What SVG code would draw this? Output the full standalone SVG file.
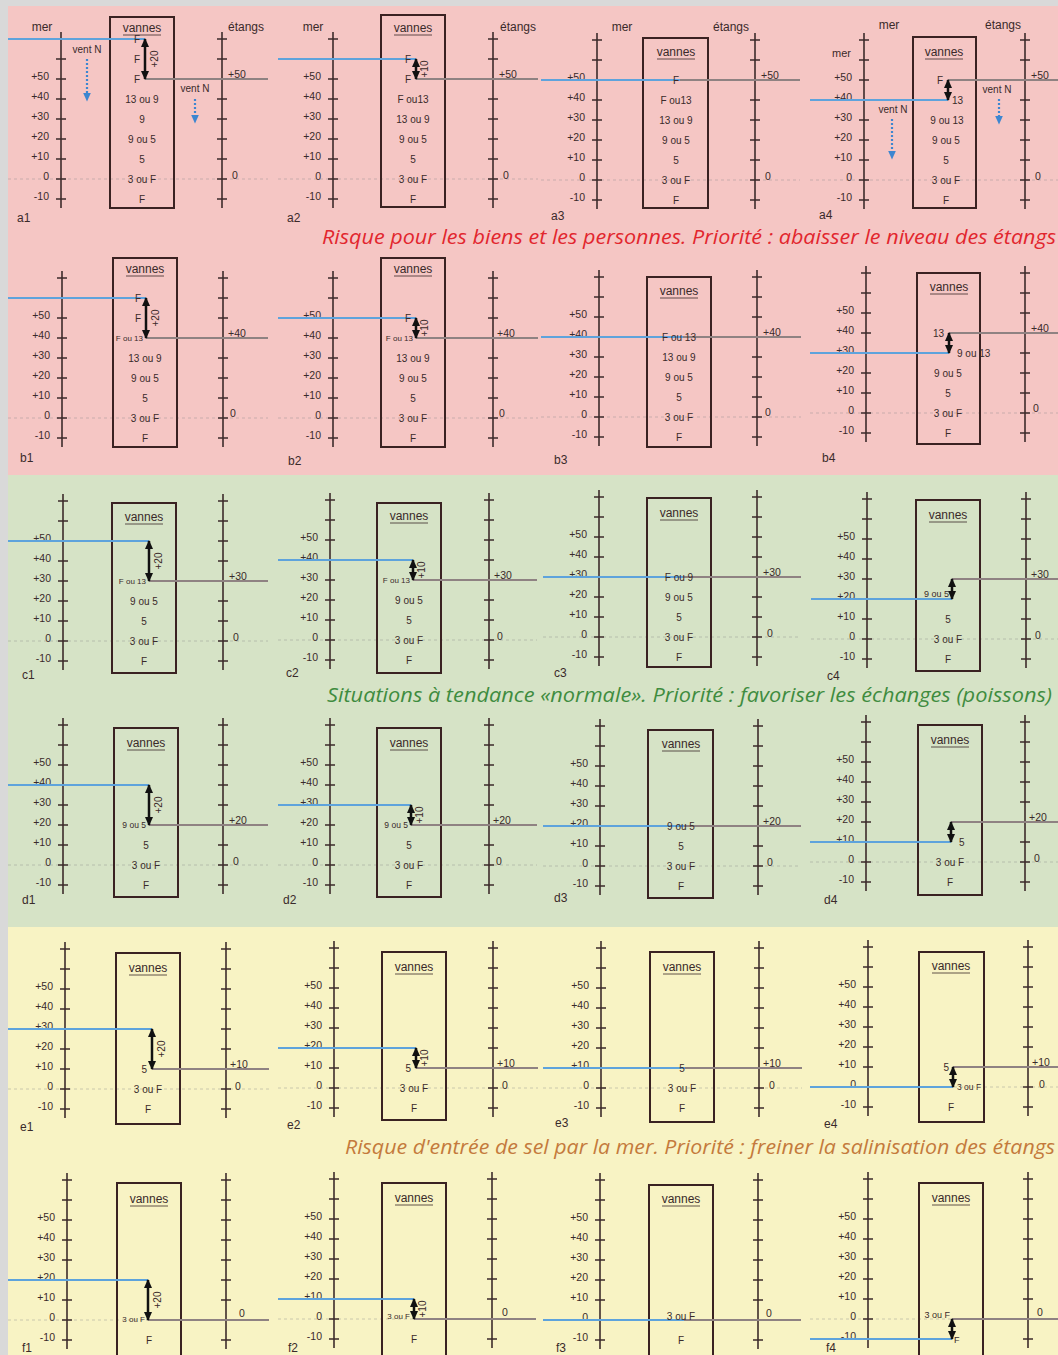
<svg xmlns="http://www.w3.org/2000/svg" xmlns:xlink="http://www.w3.org/1999/xlink" width="1058" height="1355" viewBox="0 0 1058 1355">
<style>
text{font-family:"Liberation Sans",Arial,sans-serif;fill:#3a2a2a}
.ax{stroke:#3d2b2b;stroke-width:1.6}
.tk{stroke:#3d2b2b;stroke-width:1.4}
.box{fill:none;stroke:#3a2222;stroke-width:2}
.bl{stroke:#5ea3dc;stroke-width:2.2}
.gr{stroke:#8f8282;stroke-width:2.2}
.z{stroke:#8a8a8a;stroke-width:1;stroke-dasharray:3 3;opacity:.4}
.ul{stroke:#3a2a2a;stroke-width:0.8}
.arr{stroke:#111;stroke-width:2.5;marker-start:url(#ah);marker-end:url(#ah)}
.vent{stroke:#3d86d0;stroke-width:2.2;stroke-dasharray:2 2;marker-end:url(#vh)}
.ml{font-size:10.5px;text-anchor:end}
.v{font-size:10px;text-anchor:middle}
.ve{font-size:10px;text-anchor:end}
.vst{font-size:10px;text-anchor:start}
.vs{font-size:8px;text-anchor:end}
.vss{font-size:8.5px;text-anchor:start}
.vn{font-size:12px;text-anchor:middle}
.al{font-size:10px;text-anchor:middle}
.el{font-size:10.5px}
.hd{font-size:12px;text-anchor:middle}
.pl{font-size:12px}
.wind{font-size:10px;text-anchor:middle}
.title{font-family:"Open Sans","Liberation Sans",sans-serif;font-style:italic;font-size:20px}
</style>
<defs>
<marker id="ah" viewBox="0 0 10 10" refX="9" refY="5" markerWidth="9" markerHeight="9" markerUnits="userSpaceOnUse" orient="auto-start-reverse"><path d="M0,0.5 L10,5 L0,9.5 z" fill="#111"/></marker>
<marker id="vh" viewBox="0 0 10 10" refX="5" refY="5" markerWidth="9" markerHeight="9" markerUnits="userSpaceOnUse" orient="auto"><path d="M0,0.5 L10,5 L0,9.5 z" fill="#3d86d0"/></marker>
<g id="ax">
<line class="ax" x1="0" y1="-147" x2="0" y2="29"/>
<path class="tk" d="M-5,-140H5M-5,-120H5M-5,-100H5M-5,-80H5M-5,-60H5M-5,-40H5M-5,-20H5M-5,0H5M-5,20H5"/>
</g>
<g id="ml">
<text class="ml" x="-12" y="-99">+50</text>
<text class="ml" x="-12" y="-79">+40</text>
<text class="ml" x="-12" y="-59">+30</text>
<text class="ml" x="-12" y="-39">+20</text>
<text class="ml" x="-12" y="-19">+10</text>
<text class="ml" x="-12" y="1">0</text>
<text class="ml" x="-12" y="21">-10</text>
</g>
</defs>

<!-- backgrounds -->
<rect x="0" y="0" width="1058" height="1355" fill="#d9d9d9"/>
<rect x="8" y="6" width="1050" height="469" fill="#f5c6c4"/>
<rect x="8" y="475" width="1050" height="452" fill="#d6e3c6"/>
<rect x="8" y="927" width="1050" height="428" fill="#f8f3c4"/>

<!-- titles -->
<text class="title" x="1056" y="244" text-anchor="end" textLength="734" lengthAdjust="spacingAndGlyphs" style="fill:#e2262e">Risque pour les biens et les personnes. Priorité : abaisser le niveau des étangs</text>
<text class="title" x="1052" y="702" text-anchor="end" textLength="725" lengthAdjust="spacingAndGlyphs" style="fill:#3f8c3f">Situations à tendance «normale». Priorité : favoriser les échanges (poissons)</text>
<text class="title" x="1055" y="1154" text-anchor="end" textLength="710" lengthAdjust="spacingAndGlyphs" style="fill:#c47a3c">Risque d'entrée de sel par la mer. Priorité : freiner la salinisation des étangs</text>

<!-- ROW A -->
<g id="a1" transform="translate(61,179)">
<line class="z" x1="-53" x2="207" y1="0" y2="0"/>
<use xlink:href="#ax"/><use xlink:href="#ax" x="161"/><use xlink:href="#ml"/>
<text class="hd" x="-19" y="-148">mer</text><text class="hd" x="185" y="-148">étangs</text>
<rect class="box" x="49" y="-162" width="64" height="191"/>
<text class="vn" x="81" y="-147">vannes</text><line class="ul" x1="62" x2="100" y1="-144" y2="-144"/>
<line class="bl" x1="-53" x2="84" y1="-140" y2="-140"/>
<line class="gr" x1="84" x2="207" y1="-100" y2="-100"/>
<line class="arr" x1="84" y1="-140" x2="84" y2="-100"/>
<text class="al" transform="translate(97,-120) rotate(-90)">+20</text>
<text class="ve" x="79" y="-136.5">F</text><text class="ve" x="79" y="-116.5">F</text><text class="ve" x="79" y="-96.5">F</text>
<text class="v" x="81" y="-76.5">13 ou 9</text><text class="v" x="81" y="-56.5">9</text><text class="v" x="81" y="-36.5">9 ou 5</text><text class="v" x="81" y="-16.5">5</text><text class="v" x="81" y="3.5">3 ou F</text><text class="v" x="81" y="23.5">F</text>
<text class="el" x="167" y="-101">+50</text><text class="el" x="171" y="0">0</text>
<text class="wind" x="26" y="-126">vent N</text><line class="vent" x1="26" y1="-120" x2="26" y2="-82"/>
<text class="wind" x="134" y="-87">vent N</text><line class="vent" x1="134" y1="-80" x2="134" y2="-60"/>
</g>
<text class="pl" x="17" y="222">a1</text>

<g id="a2" transform="translate(333,179)">
<line class="z" x1="-55" x2="205" y1="0" y2="0"/>
<use xlink:href="#ax"/><use xlink:href="#ax" x="160"/><use xlink:href="#ml"/>
<text class="hd" x="-20" y="-148">mer</text><text class="hd" x="185" y="-148">étangs</text>
<rect class="box" x="48" y="-164" width="64" height="192"/>
<text class="vn" x="80" y="-147">vannes</text><line class="ul" x1="61" x2="99" y1="-144" y2="-144"/>
<line class="bl" x1="-55" x2="83" y1="-120" y2="-120"/>
<line class="gr" x1="83" x2="205" y1="-100" y2="-100"/>
<line class="arr" x1="83" y1="-120" x2="83" y2="-100"/>
<text class="al" transform="translate(95,-110) rotate(-90)">+10</text>
<text class="ve" x="78" y="-116.5">F</text><text class="ve" x="78" y="-96.5">F</text>
<text class="v" x="80" y="-76.5">F ou13</text><text class="v" x="80" y="-56.5">13 ou 9</text><text class="v" x="80" y="-36.5">9 ou 5</text><text class="v" x="80" y="-16.5">5</text><text class="v" x="80" y="3.5">3 ou F</text><text class="v" x="80" y="23.5">F</text>
<text class="el" x="166" y="-101">+50</text><text class="el" x="170" y="0">0</text>
</g>
<text class="pl" x="287" y="222">a2</text>

<g id="a3" transform="translate(597,180)">
<line class="z" x1="-56" x2="203" y1="0" y2="0"/>
<use xlink:href="#ax"/><use xlink:href="#ax" x="158"/><use xlink:href="#ml"/>
<text class="hd" x="25" y="-149">mer</text><text class="hd" x="134" y="-149">étangs</text>
<rect class="box" x="46" y="-142" width="65" height="170"/>
<text class="vn" x="79" y="-124">vannes</text><line class="ul" x1="60" x2="98" y1="-121" y2="-121"/>
<line class="bl" x1="-56" x2="83" y1="-100" y2="-100"/>
<line class="gr" x1="83" x2="203" y1="-100" y2="-100"/>
<text class="v" x="79" y="-96.5">F</text>
<text class="v" x="79" y="-76.5">F ou13</text><text class="v" x="79" y="-56.5">13 ou 9</text><text class="v" x="79" y="-36.5">9 ou 5</text><text class="v" x="79" y="-16.5">5</text><text class="v" x="79" y="3.5">3 ou F</text><text class="v" x="79" y="23.5">F</text>
<text class="el" x="164" y="-101">+50</text><text class="el" x="168" y="0">0</text>
</g>
<text class="pl" x="551" y="220">a3</text>

<g id="a4" transform="translate(864,180)">
<line class="z" x1="-54" x2="194" y1="0" y2="0"/>
<use xlink:href="#ax"/><use xlink:href="#ax" x="161"/><use xlink:href="#ml"/>
<text class="hd" x="25" y="-151">mer</text><text class="hd" x="139" y="-151">étangs</text>
<text class="ml" x="-13" y="-123" style="font-size:11px">mer</text>
<rect class="box" x="49" y="-143" width="63" height="171"/>
<text class="vn" x="80" y="-124">vannes</text><line class="ul" x1="61" x2="99" y1="-121" y2="-121"/>
<line class="bl" x1="-54" x2="84" y1="-80" y2="-80"/>
<line class="gr" x1="84" x2="194" y1="-100" y2="-100"/>
<line class="arr" x1="84" y1="-100" x2="84" y2="-80"/>
<text class="ve" x="79" y="-96.5">F</text><text class="vst" x="88" y="-76.5">13</text>
<text class="v" x="83" y="-56.5">9 ou 13</text><text class="v" x="82" y="-36.5">9 ou 5</text><text class="v" x="82" y="-16.5">5</text><text class="v" x="82" y="3.5">3 ou F</text><text class="v" x="82" y="23.5">F</text>
<text class="el" x="167" y="-101">+50</text><text class="el" x="171" y="0">0</text>
<text class="wind" x="29" y="-67">vent N</text><line class="vent" x1="28" y1="-61" x2="28" y2="-25"/>
<text class="wind" x="133" y="-87">vent N</text><line class="vent" x1="135" y1="-81" x2="135" y2="-60"/>
</g>
<text class="pl" x="819" y="219">a4</text>

<!-- ROW B -->
<g id="b1" transform="translate(62,418)">
<line class="z" x1="-54" x2="206" y1="0" y2="0"/>
<use xlink:href="#ax"/><use xlink:href="#ax" x="161"/><use xlink:href="#ml"/>
<rect class="box" x="51" y="-160" width="64" height="189"/>
<text class="vn" x="83" y="-145">vannes</text><line class="ul" x1="64" x2="102" y1="-142" y2="-142"/>
<line class="bl" x1="-54" x2="84" y1="-120" y2="-120"/>
<line class="gr" x1="84" x2="206" y1="-80" y2="-80"/>
<line class="arr" x1="84" y1="-120" x2="84" y2="-80"/>
<text class="al" transform="translate(97,-100) rotate(-90)">+20</text>
<text class="ve" x="79" y="-116.5">F</text><text class="ve" x="79" y="-96.5">F</text><text class="vs" x="81" y="-77">F ou 13</text>
<text class="v" x="83" y="-56.5">13 ou 9</text><text class="v" x="83" y="-36.5">9 ou 5</text><text class="v" x="83" y="-16.5">5</text><text class="v" x="83" y="3.5">3 ou F</text><text class="v" x="83" y="23.5">F</text>
<text class="el" x="166" y="-81">+40</text><text class="el" x="168" y="-1">0</text>
</g>
<text class="pl" x="20" y="462">b1</text>

<g id="b2" transform="translate(333,418)">
<line class="z" x1="-55" x2="205" y1="0" y2="0"/>
<use xlink:href="#ax"/><use xlink:href="#ax" x="160"/><use xlink:href="#ml"/>
<rect class="box" x="48" y="-160" width="64" height="189"/>
<text class="vn" x="80" y="-145">vannes</text><line class="ul" x1="61" x2="99" y1="-142" y2="-142"/>
<line class="bl" x1="-55" x2="83" y1="-100" y2="-100"/>
<line class="gr" x1="83" x2="205" y1="-80" y2="-80"/>
<line class="arr" x1="83" y1="-100" x2="83" y2="-80"/>
<text class="al" transform="translate(95,-90) rotate(-90)">+10</text>
<text class="ve" x="78" y="-96.5">F</text><text class="vs" x="80" y="-77">F ou 13</text>
<text class="v" x="80" y="-56.5">13 ou 9</text><text class="v" x="80" y="-36.5">9 ou 5</text><text class="v" x="80" y="-16.5">5</text><text class="v" x="80" y="3.5">3 ou F</text><text class="v" x="80" y="23.5">F</text>
<text class="el" x="164" y="-81">+40</text><text class="el" x="166" y="-1">0</text>
</g>
<text class="pl" x="288" y="465">b2</text>

<g id="b3" transform="translate(599,417)">
<line class="z" x1="-58" x2="202" y1="0" y2="0"/>
<use xlink:href="#ax"/><use xlink:href="#ax" x="158"/><use xlink:href="#ml"/>
<rect class="box" x="48" y="-140" width="64" height="170"/>
<text class="vn" x="80" y="-122">vannes</text><line class="ul" x1="61" x2="99" y1="-119" y2="-119"/>
<line class="bl" x1="-58" x2="84" y1="-80" y2="-80"/>
<line class="gr" x1="84" x2="202" y1="-80" y2="-80"/>
<text class="v" x="80" y="-76.5">F ou 13</text><text class="v" x="80" y="-56.5">13 ou 9</text><text class="v" x="80" y="-36.5">9 ou 5</text><text class="v" x="80" y="-16.5">5</text><text class="v" x="80" y="3.5">3 ou F</text><text class="v" x="80" y="23.5">F</text>
<text class="el" x="164" y="-81">+40</text><text class="el" x="166" y="-1">0</text>
</g>
<text class="pl" x="554" y="464">b3</text>

<g id="b4" transform="translate(866,413)">
<line class="z" x1="-56" x2="192" y1="0" y2="0"/>
<use xlink:href="#ax"/><use xlink:href="#ax" x="159"/><use xlink:href="#ml"/>
<rect class="box" x="51" y="-140" width="63" height="171"/>
<text class="vn" x="83" y="-122">vannes</text><line class="ul" x1="64" x2="102" y1="-119" y2="-119"/>
<line class="bl" x1="-56" x2="83" y1="-60" y2="-60"/>
<line class="gr" x1="83" x2="192" y1="-80" y2="-80"/>
<line class="arr" x1="83" y1="-80" x2="83" y2="-60"/>
<text class="ve" x="78" y="-76.5">13</text><text class="vst" x="91" y="-56.5">9 ou 13</text>
<text class="v" x="82" y="-36.5">9 ou 5</text><text class="v" x="82" y="-16.5">5</text><text class="v" x="82" y="3.5">3 ou F</text><text class="v" x="82" y="23.5">F</text>
<text class="el" x="165" y="-81">+40</text><text class="el" x="167" y="-1">0</text>
</g>
<text class="pl" x="822" y="462">b4</text>

<!-- ROW C -->
<g id="c1" transform="translate(63,641)">
<line class="z" x1="-55" x2="205" y1="0" y2="0"/>
<use xlink:href="#ax"/><use xlink:href="#ax" x="160"/><use xlink:href="#ml"/>
<rect class="box" x="49" y="-138" width="64" height="170"/>
<text class="vn" x="81" y="-120">vannes</text><line class="ul" x1="62" x2="100" y1="-117" y2="-117"/>
<line class="bl" x1="-55" x2="86" y1="-100" y2="-100"/>
<line class="gr" x1="86" x2="205" y1="-60" y2="-60"/>
<line class="arr" x1="86" y1="-100" x2="86" y2="-60"/>
<text class="al" transform="translate(99,-80) rotate(-90)">+20</text>
<text class="vs" x="83" y="-57">F ou 13</text>
<text class="v" x="81" y="-36.5">9 ou 5</text><text class="v" x="81" y="-16.5">5</text><text class="v" x="81" y="3.5">3 ou F</text><text class="v" x="81" y="23.5">F</text>
<text class="el" x="166" y="-61">+30</text><text class="el" x="170" y="0">0</text>
</g>
<text class="pl" x="22" y="679">c1</text>

<g id="c2" transform="translate(330,640)">
<line class="z" x1="-52" x2="207" y1="0" y2="0"/>
<use xlink:href="#ax"/><use xlink:href="#ax" x="159"/><use xlink:href="#ml"/>
<rect class="box" x="47" y="-137" width="64" height="170"/>
<text class="vn" x="79" y="-120">vannes</text><line class="ul" x1="60" x2="98" y1="-117" y2="-117"/>
<line class="bl" x1="-52" x2="83" y1="-80" y2="-80"/>
<line class="gr" x1="83" x2="207" y1="-60" y2="-60"/>
<line class="arr" x1="83" y1="-80" x2="83" y2="-60"/>
<text class="al" transform="translate(95,-70) rotate(-90)">+10</text>
<text class="vs" x="80" y="-57">F ou 13</text>
<text class="v" x="79" y="-36.5">9 ou 5</text><text class="v" x="79" y="-16.5">5</text><text class="v" x="79" y="3.5">3 ou F</text><text class="v" x="79" y="23.5">F</text>
<text class="el" x="164" y="-61">+30</text><text class="el" x="167" y="0">0</text>
</g>
<text class="pl" x="286" y="677">c2</text>

<g id="c3" transform="translate(599,637)">
<line class="z" x1="-56" x2="202" y1="0" y2="0"/>
<use xlink:href="#ax"/><use xlink:href="#ax" x="158"/><use xlink:href="#ml"/>
<rect class="box" x="48" y="-139" width="64" height="169"/>
<text class="vn" x="80" y="-120">vannes</text><line class="ul" x1="61" x2="99" y1="-117" y2="-117"/>
<line class="bl" x1="-56" x2="84" y1="-60" y2="-60"/>
<line class="gr" x1="84" x2="202" y1="-60" y2="-60"/>
<text class="v" x="80" y="-56.5">F ou 9</text><text class="v" x="80" y="-36.5">9 ou 5</text><text class="v" x="80" y="-16.5">5</text><text class="v" x="80" y="3.5">3 ou F</text><text class="v" x="80" y="23.5">F</text>
<text class="el" x="164" y="-61">+30</text><text class="el" x="168" y="0">0</text>
</g>
<text class="pl" x="554" y="677">c3</text>

<g id="c4" transform="translate(867,639)">
<line class="z" x1="-56" x2="191" y1="0" y2="0"/>
<use xlink:href="#ax"/><use xlink:href="#ax" x="159"/><use xlink:href="#ml"/>
<rect class="box" x="49" y="-139" width="64" height="171"/>
<text class="vn" x="81" y="-120">vannes</text><line class="ul" x1="62" x2="100" y1="-117" y2="-117"/>
<line class="bl" x1="-56" x2="85" y1="-40" y2="-40"/>
<line class="gr" x1="85" x2="191" y1="-60" y2="-60"/>
<line class="arr" x1="85" y1="-60" x2="85" y2="-40"/>
<text class="ve" x="82" y="-42" style="font-size:9px">9 ou 5</text>
<text class="v" x="81" y="-16.5">5</text><text class="v" x="81" y="3.5">3 ou F</text><text class="v" x="81" y="23.5">F</text>
<text class="el" x="164" y="-61">+30</text><text class="el" x="168" y="0">0</text>
</g>
<text class="pl" x="827" y="680">c4</text>

<!-- ROW D -->
<g id="d1" transform="translate(63,865)">
<line class="z" x1="-55" x2="205" y1="0" y2="0"/>
<use xlink:href="#ax"/><use xlink:href="#ax" x="160"/><use xlink:href="#ml"/>
<rect class="box" x="51" y="-137" width="64" height="169"/>
<text class="vn" x="83" y="-118">vannes</text><line class="ul" x1="64" x2="102" y1="-115" y2="-115"/>
<line class="bl" x1="-55" x2="86" y1="-80" y2="-80"/>
<line class="gr" x1="86" x2="205" y1="-40" y2="-40"/>
<line class="arr" x1="86" y1="-80" x2="86" y2="-40"/>
<text class="al" transform="translate(99,-60) rotate(-90)">+20</text>
<text class="vs" x="83" y="-37" style="font-size:8.5px">9 ou 5</text>
<text class="v" x="83" y="-16.5">5</text><text class="v" x="83" y="3.5">3 ou F</text><text class="v" x="83" y="23.5">F</text>
<text class="el" x="166" y="-41">+20</text><text class="el" x="170" y="0">0</text>
</g>
<text class="pl" x="22" y="904">d1</text>

<g id="d2" transform="translate(330,865)">
<line class="z" x1="-52" x2="207" y1="0" y2="0"/>
<use xlink:href="#ax"/><use xlink:href="#ax" x="159"/><use xlink:href="#ml"/>
<rect class="box" x="47" y="-137" width="64" height="169"/>
<text class="vn" x="79" y="-118">vannes</text><line class="ul" x1="60" x2="98" y1="-115" y2="-115"/>
<line class="bl" x1="-52" x2="81" y1="-60" y2="-60"/>
<line class="gr" x1="81" x2="207" y1="-40" y2="-40"/>
<line class="arr" x1="81" y1="-60" x2="81" y2="-40"/>
<text class="al" transform="translate(93,-50) rotate(-90)">+10</text>
<text class="vs" x="78" y="-37" style="font-size:8.5px">9 ou 5</text>
<text class="v" x="79" y="-16.5">5</text><text class="v" x="79" y="3.5">3 ou F</text><text class="v" x="79" y="23.5">F</text>
<text class="el" x="163" y="-41">+20</text><text class="el" x="166" y="0">0</text>
</g>
<text class="pl" x="283" y="904">d2</text>

<g id="d3" transform="translate(600,866)">
<line class="z" x1="-57" x2="201" y1="0" y2="0"/>
<use xlink:href="#ax"/><use xlink:href="#ax" x="158"/><use xlink:href="#ml"/>
<rect class="box" x="48" y="-136" width="65" height="168"/>
<text class="vn" x="81" y="-118">vannes</text><line class="ul" x1="62" x2="100" y1="-115" y2="-115"/>
<line class="bl" x1="-57" x2="84" y1="-40" y2="-40"/>
<line class="gr" x1="84" x2="201" y1="-40" y2="-40"/>
<text class="v" x="81" y="-36.5">9 ou 5</text><text class="v" x="81" y="-16.5">5</text><text class="v" x="81" y="3.5">3 ou F</text><text class="v" x="81" y="23.5">F</text>
<text class="el" x="163" y="-41">+20</text><text class="el" x="167" y="0">0</text>
</g>
<text class="pl" x="554" y="902">d3</text>

<g id="d4" transform="translate(866,862)">
<line class="z" x1="-56" x2="192" y1="0" y2="0"/>
<use xlink:href="#ax"/><use xlink:href="#ax" x="159"/><use xlink:href="#ml"/>
<rect class="box" x="52" y="-137" width="64" height="170"/>
<text class="vn" x="84" y="-118">vannes</text><line class="ul" x1="65" x2="103" y1="-115" y2="-115"/>
<line class="bl" x1="-56" x2="85" y1="-20" y2="-20"/>
<line class="gr" x1="85" x2="192" y1="-40" y2="-40"/>
<line class="arr" x1="85" y1="-40" x2="85" y2="-20"/>
<text class="vst" x="93" y="-16.5">5</text>
<text class="v" x="84" y="3.5">3 ou F</text><text class="v" x="84" y="23.5">F</text>
<text class="el" x="163" y="-41">+20</text><text class="el" x="168" y="0">0</text>
</g>
<text class="pl" x="824" y="904">d4</text>

<!-- ROW E -->
<g id="e1" transform="translate(65,1089)">
<line class="z" x1="-57" x2="204" y1="0" y2="0"/>
<use xlink:href="#ax"/><use xlink:href="#ax" x="161"/><use xlink:href="#ml"/>
<rect class="box" x="51" y="-136" width="64" height="171"/>
<text class="vn" x="83" y="-117">vannes</text><line class="ul" x1="64" x2="102" y1="-114" y2="-114"/>
<line class="bl" x1="-57" x2="87" y1="-60" y2="-60"/>
<line class="gr" x1="87" x2="204" y1="-20" y2="-20"/>
<line class="arr" x1="87" y1="-60" x2="87" y2="-20"/>
<text class="al" transform="translate(100,-40) rotate(-90)">+20</text>
<text class="ve" x="82" y="-16.5">5</text>
<text class="v" x="83" y="3.5">3 ou F</text><text class="v" x="83" y="23.5">F</text>
<text class="el" x="165" y="-21">+10</text><text class="el" x="170" y="1">0</text>
</g>
<text class="pl" x="20" y="1131">e1</text>

<g id="e2" transform="translate(334,1088)">
<line class="z" x1="-56" x2="204" y1="0" y2="0"/>
<use xlink:href="#ax"/><use xlink:href="#ax" x="159"/><use xlink:href="#ml"/>
<rect class="box" x="48" y="-136" width="64" height="168"/>
<text class="vn" x="80" y="-117">vannes</text><line class="ul" x1="61" x2="99" y1="-114" y2="-114"/>
<line class="bl" x1="-56" x2="82" y1="-40" y2="-40"/>
<line class="gr" x1="82" x2="204" y1="-20" y2="-20"/>
<line class="arr" x1="82" y1="-40" x2="82" y2="-20"/>
<text class="al" transform="translate(94,-30) rotate(-90)">+10</text>
<text class="ve" x="77" y="-16.5">5</text>
<text class="v" x="80" y="3.5">3 ou F</text><text class="v" x="80" y="23.5">F</text>
<text class="el" x="163" y="-21">+10</text><text class="el" x="168" y="1">0</text>
</g>
<text class="pl" x="287" y="1129">e2</text>

<g id="e3" transform="translate(601,1088)">
<line class="z" x1="-58" x2="201" y1="0" y2="0"/>
<use xlink:href="#ax"/><use xlink:href="#ax" x="158"/><use xlink:href="#ml"/>
<rect class="box" x="49" y="-136" width="64" height="170"/>
<text class="vn" x="81" y="-117">vannes</text><line class="ul" x1="62" x2="100" y1="-114" y2="-114"/>
<line class="bl" x1="-58" x2="84" y1="-20" y2="-20"/>
<line class="gr" x1="84" x2="201" y1="-20" y2="-20"/>
<text class="v" x="81" y="-16.5">5</text><text class="v" x="81" y="3.5">3 ou F</text><text class="v" x="81" y="23.5">F</text>
<text class="el" x="162" y="-21">+10</text><text class="el" x="168" y="1">0</text>
</g>
<text class="pl" x="555" y="1127">e3</text>

<g id="e4" transform="translate(868,1087)">
<line class="z" x1="-58" x2="190" y1="0" y2="0"/>
<use xlink:href="#ax"/><use xlink:href="#ax" x="160"/><use xlink:href="#ml"/>
<rect class="box" x="51" y="-135" width="65" height="170"/>
<text class="vn" x="83" y="-117">vannes</text><line class="ul" x1="64" x2="102" y1="-114" y2="-114"/>
<line class="bl" x1="-58" x2="85" y1="0" y2="0"/>
<line class="gr" x1="85" x2="190" y1="-20" y2="-20"/>
<line class="arr" x1="85" y1="-20" x2="85" y2="0"/>
<text class="ve" x="81" y="-16.5">5</text><text class="vss" x="89" y="3">3 ou F</text>
<text class="v" x="83" y="23.5">F</text>
<text class="el" x="164" y="-21">+10</text><text class="el" x="171" y="1">0</text>
</g>
<text class="pl" x="824" y="1128">e4</text>

<!-- ROW F -->
<g id="f1" transform="translate(67,1320)">
<line class="z" x1="-59" x2="202" y1="0" y2="0"/>
<use xlink:href="#ax"/><use xlink:href="#ax" x="159"/><use xlink:href="#ml"/>
<rect class="box" x="50" y="-137" width="64" height="180"/>
<text class="vn" x="82" y="-117">vannes</text><line class="ul" x1="63" x2="101" y1="-114" y2="-114"/>
<line class="bl" x1="-59" x2="81" y1="-40" y2="-40"/>
<line class="gr" x1="81" x2="202" y1="0" y2="0"/>
<line class="arr" x1="81" y1="-40" x2="81" y2="0"/>
<text class="al" transform="translate(94,-20) rotate(-90)">+20</text>
<text class="vs" x="78" y="2">3 ou F</text>
<text class="v" x="82" y="23.5">F</text>
<text class="el" x="172" y="-3">0</text>
</g>
<text class="pl" x="22" y="1352">f1</text>

<g id="f2" transform="translate(334,1319)">
<line class="z" x1="-56" x2="202" y1="0" y2="0"/>
<use xlink:href="#ax"/><use xlink:href="#ax" x="158"/><use xlink:href="#ml"/>
<rect class="box" x="48" y="-136" width="64" height="180"/>
<text class="vn" x="80" y="-117">vannes</text><line class="ul" x1="61" x2="99" y1="-114" y2="-114"/>
<line class="bl" x1="-56" x2="80" y1="-20" y2="-20"/>
<line class="gr" x1="80" x2="202" y1="0" y2="0"/>
<line class="arr" x1="80" y1="-20" x2="80" y2="0"/>
<text class="al" transform="translate(92,-10) rotate(-90)">+10</text>
<text class="vs" x="76" y="0">3 ou F</text>
<text class="v" x="80" y="23.5">F</text>
<text class="el" x="168" y="-3">0</text>
</g>
<text class="pl" x="288" y="1352">f2</text>

<g id="f3" transform="translate(600,1320)">
<line class="z" x1="-57" x2="201" y1="0" y2="0"/>
<use xlink:href="#ax"/><use xlink:href="#ax" x="158"/><use xlink:href="#ml"/>
<rect class="box" x="49" y="-135" width="64" height="180"/>
<text class="vn" x="81" y="-117">vannes</text><line class="ul" x1="62" x2="100" y1="-114" y2="-114"/>
<line class="bl" x1="-57" x2="84" y1="0" y2="0"/>
<line class="gr" x1="84" x2="201" y1="0" y2="0"/>
<text class="v" x="81" y="0">3 ou F</text><text class="v" x="81" y="23.5">F</text>
<text class="el" x="166" y="-3">0</text>
</g>
<text class="pl" x="556" y="1352">f3</text>

<g id="f4" transform="translate(868,1319)">
<line class="z" x1="-58" x2="190" y1="0" y2="0"/>
<use xlink:href="#ax"/><use xlink:href="#ax" x="160"/><use xlink:href="#ml"/>
<rect class="box" x="51" y="-136" width="64" height="180"/>
<text class="vn" x="83" y="-117">vannes</text><line class="ul" x1="64" x2="102" y1="-114" y2="-114"/>
<line class="bl" x1="-58" x2="84" y1="20" y2="20"/>
<line class="gr" x1="84" x2="190" y1="0" y2="0"/>
<line class="arr" x1="84" y1="0" x2="84" y2="20"/>
<text class="ve" x="82" y="-1" style="font-size:9px">3 ou F</text><text class="vst" x="86" y="24" style="font-size:9px">F</text>
<text class="el" x="169" y="-3">0</text>
</g>
<text class="pl" x="826" y="1352">f4</text>
</svg>
